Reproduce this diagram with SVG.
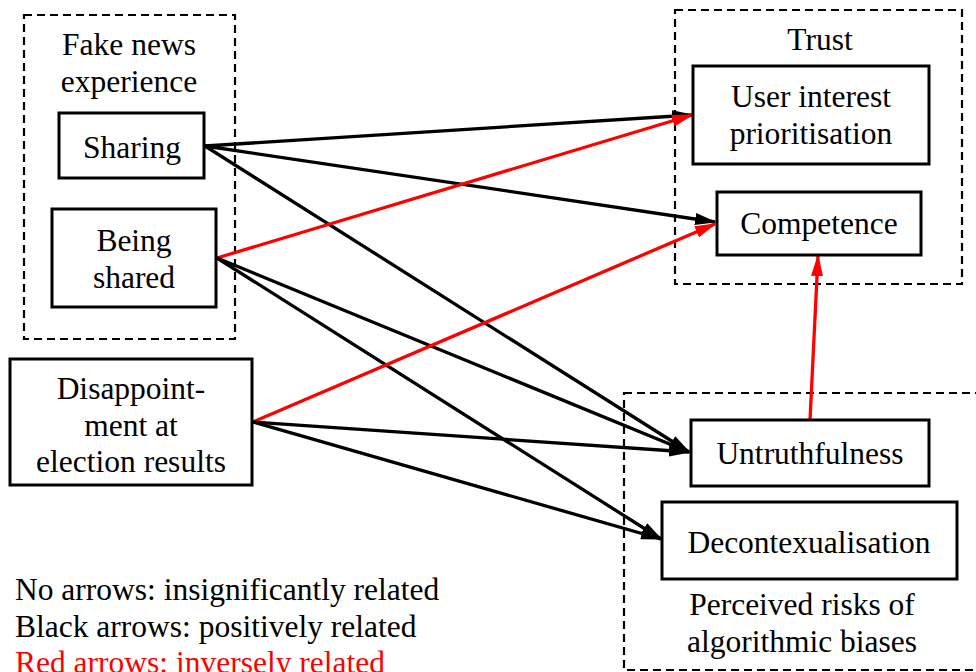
<svg xmlns="http://www.w3.org/2000/svg" width="976" height="672" viewBox="0 0 976 672">
<style>
text{font-family:"Liberation Serif","Times New Roman",serif;font-size:31.5px;fill:#000}
.mid{text-anchor:middle}
.box{fill:#fff;stroke:#000;stroke-width:3}
.grp{fill:none;stroke:#000;stroke-width:2.2;stroke-dasharray:8 5}
.k{stroke:#000;stroke-width:3.3;fill:none}
.r{stroke:#ff0000;stroke-width:3.3;fill:none}
</style>
<defs>
<marker id="ak" markerUnits="userSpaceOnUse" markerWidth="22" markerHeight="12" refX="20" refY="6" orient="auto"><path d="M0,0 L22,6 L0,12 z" fill="#000"/></marker>
<marker id="ar" markerUnits="userSpaceOnUse" markerWidth="22" markerHeight="12" refX="20" refY="6" orient="auto"><path d="M0,0 L22,6 L0,12 z" fill="#ff0000"/></marker>
</defs>
<rect width="976" height="672" fill="#fff"/>
<g id="group-fake-news">
<rect class="grp" x="24" y="15" width="211" height="324"/>
<text class="mid" x="129" y="55">Fake news</text>
<text class="mid" x="129" y="92">experience</text>
</g>
<g id="group-trust">
<rect class="grp" x="675" y="10" width="287" height="274"/>
<text class="mid" x="820" y="50">Trust</text>
</g>
<g id="group-risks">
<rect class="grp" x="624" y="393" width="400" height="277"/>
<text class="mid" x="802" y="615">Perceived risks of</text>
<text class="mid" x="802" y="652">algorithmic biases</text>
</g>
<g id="connectors">
<line class="k" x1="205" y1="146" x2="692" y2="115" marker-end="url(#ak)"/>
<line class="k" x1="205" y1="146" x2="715" y2="222" marker-end="url(#ak)"/>
<line class="k" x1="205" y1="146" x2="689" y2="452" marker-end="url(#ak)"/>
<line class="r" x1="217" y1="258" x2="692" y2="115" marker-end="url(#ar)"/>
<line class="k" x1="217" y1="258" x2="689" y2="452" marker-end="url(#ak)"/>
<line class="k" x1="217" y1="258" x2="661" y2="539" marker-end="url(#ak)"/>
<line class="r" x1="253" y1="422" x2="715" y2="224" marker-end="url(#ar)"/>
<line class="k" x1="253" y1="422" x2="689" y2="452" marker-end="url(#ak)"/>
<line class="k" x1="253" y1="422" x2="661" y2="539" marker-end="url(#ak)"/>
<line class="r" x1="810" y1="420" x2="818" y2="256" marker-end="url(#ar)"/>
</g>
<g id="sharing">
<rect class="box" x="59" y="113" width="145" height="65"/>
<text class="mid" x="132" y="158">Sharing</text>
</g>
<g id="being-shared">
<rect class="box" x="52" y="209" width="164" height="98"/>
<text class="mid" x="134" y="251">Being</text>
<text class="mid" x="134" y="288">shared</text>
</g>
<g id="disappointment">
<rect class="box" x="10" y="359" width="242" height="126"/>
<text class="mid" x="131" y="399">Disappoint-</text>
<text class="mid" x="131" y="436">ment at</text>
<text class="mid" x="131" y="472">election results</text>
</g>
<g id="user-interest">
<rect class="box" x="693" y="66" width="236" height="98"/>
<text class="mid" x="811" y="107">User interest</text>
<text class="mid" x="811" y="144">prioritisation</text>
</g>
<g id="competence">
<rect class="box" x="717" y="192" width="204" height="63"/>
<text class="mid" x="819" y="234">Competence</text>
</g>
<g id="untruthfulness">
<rect class="box" x="691" y="420" width="238" height="66"/>
<text class="mid" x="810" y="464">Untruthfulness</text>
</g>
<g id="decontexualisation">
<rect class="box" x="662" y="502" width="295" height="77"/>
<text class="mid" x="809" y="553">Decontexualisation</text>
</g>
<g id="legend">
<text x="15" y="600">No arrows: insignificantly related</text>
<text x="15" y="637">Black arrows: positively related</text>
<text x="15" y="673" style="fill:#ff0000">Red arrows: inversely related</text>
</g>
</svg>
